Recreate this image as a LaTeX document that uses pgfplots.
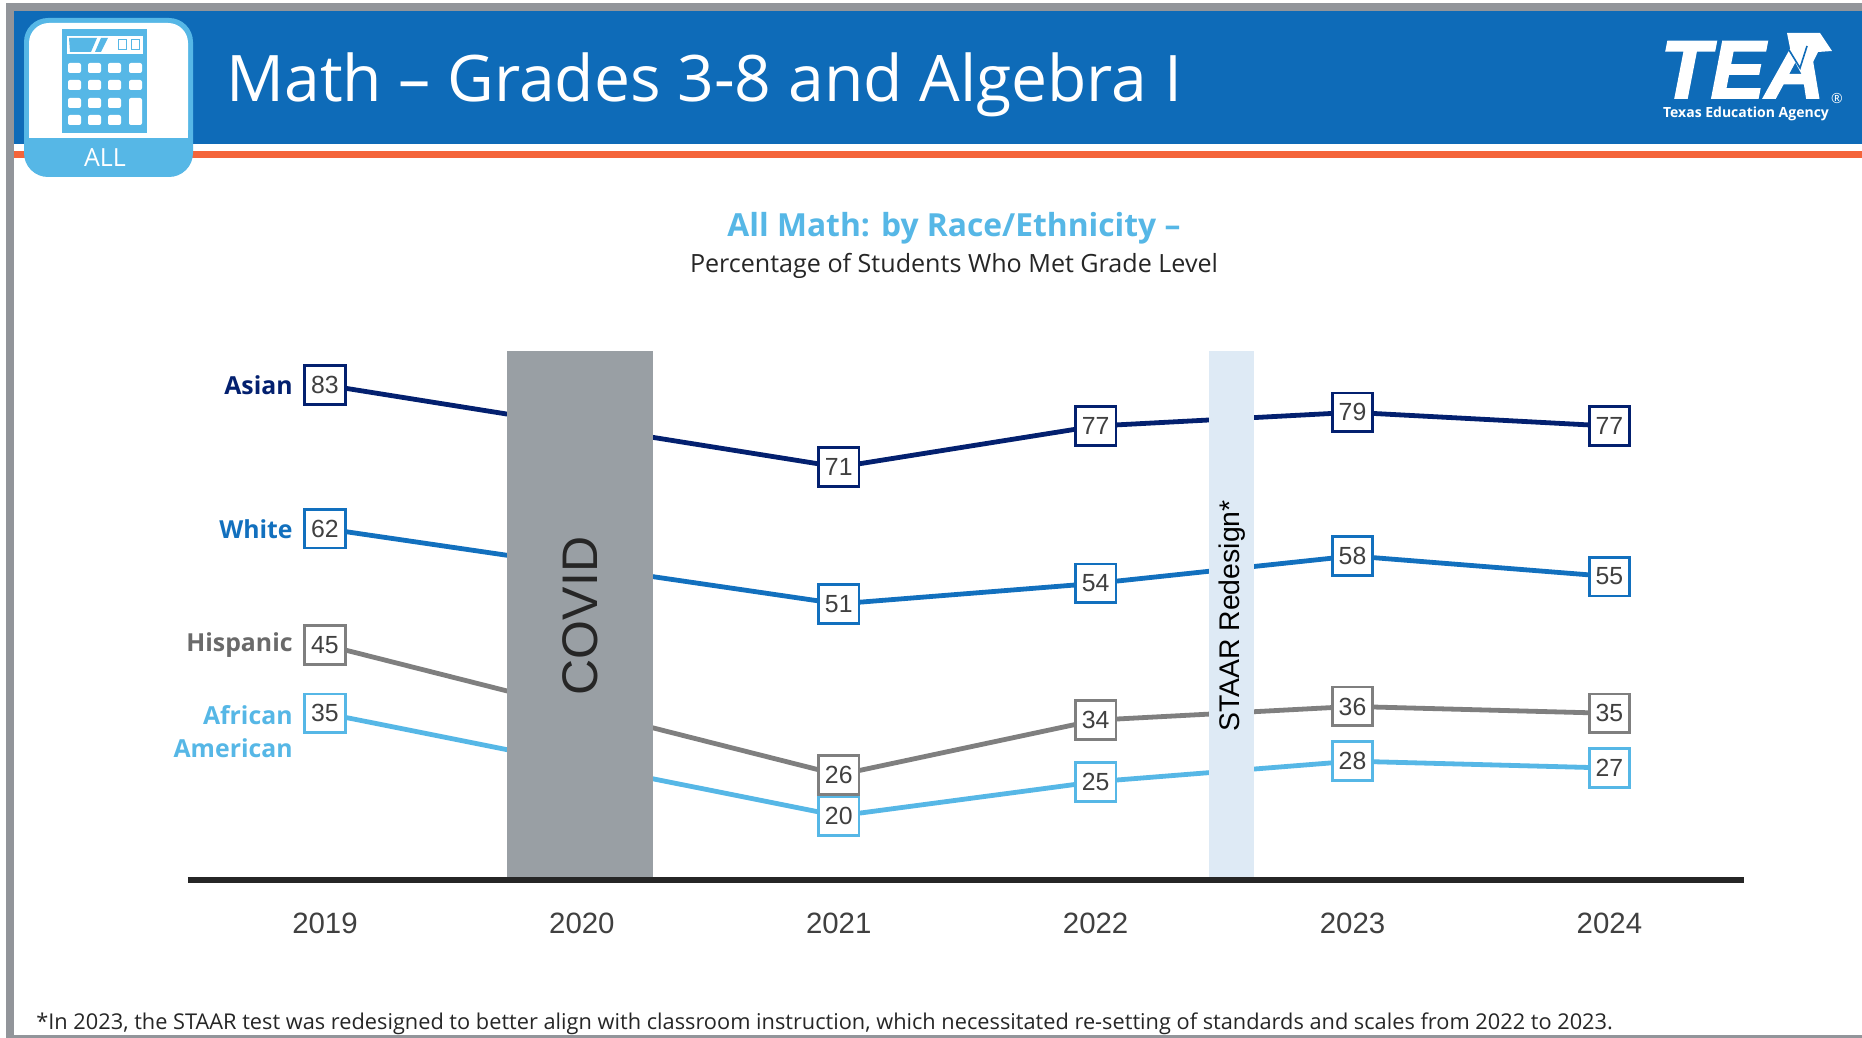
\documentclass[border=0pt]{standalone}
\usepackage{pgfplots}
\pgfplotsset{compat=1.18}
\usepackage{fontspec}
\setmainfont{Open Sans}
\newfontfamily\arial{Liberation Sans}
\newfontfamily\teaf[BoldItalicFeatures={FakeBold=2}]{Liberation Sans}
\definecolor{hdr}{HTML}{0E6BB8}
\definecolor{navy}{HTML}{03206F}
\definecolor{whitec}{HTML}{1270BE}
\definecolor{hisp}{HTML}{7F7F7F}
\definecolor{hisptxt}{HTML}{6A6A6A}
\definecolor{afam}{HTML}{56B7E6}
\definecolor{frame}{HTML}{92959A}
\definecolor{orangebar}{HTML}{F4643A}
\definecolor{covid}{HTML}{999FA4}
\definecolor{staar}{HTML}{DEEAF5}
\definecolor{numtxt}{HTML}{404040}
\pgfplotstableread{
year val
2019 35
2021 20
2022 25
2023 28
2024 27
}\tblafam
\pgfplotstableread{
year val
2019 45
2021 26
2022 34
2023 36
2024 35
}\tblhisp
\pgfplotstableread{
year val
2019 62
2021 51
2022 54
2023 58
2024 55
}\tblwhite
\pgfplotstableread{
year val
2019 83
2021 71
2022 77
2023 79
2024 77
}\tblasian
\pgfplotsset{
  series/.style={
    line width=2.4pt, draw=#1, mark=none,
    nodes near coords,
    point meta=y,
    /pgf/number format/assume math mode=true,
    every node near coord/.style={anchor=center, draw=#1, fill=white,
      line width=1.4pt, minimum width=20.3pt, minimum height=19.4pt, inner sep=0pt,
      text=numtxt, font=\arial\fontsize{12.4}{14}\selectfont},
  }
}
\begin{document}
\begin{tikzpicture}
\path[use as bounding box] (0,0) rectangle (931pt,519pt);
\begin{scope}[x=0.5pt,y=-0.5pt,shift={(0pt,519pt)}]
  % frame
  \fill[frame] (6,3) rectangle (1862,1038);
  \fill[white] (14,10.7) rectangle (1862,1035);
  \fill[hdr] (14,10.7) rectangle (1862,144);
  \fill[orangebar] (14,151) rectangle (1862,158.5);
  % icon
  \fill[afam,rounded corners=12pt] (24,18) rectangle (193,177);
  \fill[white,rounded corners=10pt] (29,23) rectangle (188,150);
  \fill[white] (29,60) rectangle (188,138);
  \fill[afam] (29,138) rectangle (188,152);
  \fill[afam] (62,29) rectangle (147,133);
  \fill[white] (67,36) rectangle (143,54);
  \fill[afam] (69,38) -- (97,38) -- (91,52) -- (70,52) -- cycle;
  \fill[afam] (101,38) -- (108,38) -- (101,52) -- (95,52) -- cycle;
  \foreach \xx in {118,131} \draw[afam,line width=0.5pt] (\xx,40) rectangle (\xx+8,50);
  \foreach \xx in {68,88,108,129} \foreach \yy in {63,80,98,115} {
    \ifnum\xx=129 \ifnum\yy>80 \else \fill[white,rounded corners=1pt] (\xx,\yy) rectangle (\xx+13,\yy+10); \fi
    \else \fill[white,rounded corners=1pt] (\xx,\yy) rectangle (\xx+13,\yy+10); \fi
  }
  \fill[white,rounded corners=1pt] (129,98) rectangle (142,125);
  \node[text=white,font=\fontsize{12.5}{14}\selectfont] at (105,157.5) {ALL};
  % title
  \node[anchor=base west,text=white,inner sep=0pt,font=\fontsize{32.1}{36}\selectfont] at (226,102) {Math – Grades 3-8 and Algebra I};
  % logo
  \node[anchor=base west,text=white,inner sep=0pt,font=\teaf\bfseries\itshape\fontsize{41}{44}\selectfont] at (1660,98) {TEA};
  \fill[white] (1787,33) -- (1820,33) -- (1832,51) -- (1818,52) -- (1812,64) -- (1802,75) -- (1795,62) -- (1790,48) -- cycle;
  \draw[hdr,line width=0.8pt] (1789,50) -- (1800,68) -- (1807,46);
  \node[anchor=center,text=white,inner sep=0pt,font=\bfseries\fontsize{7}{8}\selectfont] at (1746,114) {Texas Education Agency};
  \node[text=white,inner sep=0pt,font=\fontsize{7}{8}\selectfont] at (1837,99) {®};
  % headings
  \node[text=afam,inner sep=0pt,font=\bfseries\fontsize{15.9}{18}\selectfont] at (954,228) {All Math: by Race/Ethnicity –};
  \node[text=black!85,inner sep=0pt,font=\fontsize{12.55}{15}\selectfont] at (954,265.5) {Percentage of Students Who Met Grade Level};
  % footnote
  \node[anchor=west,text=black!85,inner sep=0pt,font=\fontsize{10.88}{13}\selectfont] at (36,1024) {*In 2023, the STAAR test was redesigned to better align with classroom instruction, which necessitated re-setting of standards and scales from 2022 to 2023.};
\end{scope}
\begin{axis}[
  at={(93.9pt,79pt)}, anchor=south west,
  scale only axis, width=777.85pt, height=264.5pt,
  xmin=2018.466, xmax=2024.522, ymin=10.63, ymax=87.97,
  axis x line=bottom, axis y line=none,
  axis line style={line width=2.75pt, color=black!85, -},
  xtick={2019,2020,2021,2022,2023,2024},
  xticklabels={2019,2020,2021,2022,2023,2024},
  tick style={draw=none},
  x tick label style={font=\arial\fontsize{14.7}{16}\selectfont, text=numtxt, yshift=-11pt},
  clip=false,
]
\addplot[draw=none] coordinates {(2019,40)};
\end{axis}
\begin{axis}[
  at={(93.9pt,79pt)}, anchor=south west,
  scale only axis, width=777.85pt, height=264.5pt,
  xmin=2018.466, xmax=2024.522, ymin=10.63, ymax=87.97,
  hide axis, clip=false,
]
\addplot[series=afam] table[x=year,y=val] {\tblafam};
\addplot[series=hisp] table[x=year,y=val] {\tblhisp};
\addplot[series=whitec] table[x=year,y=val] {\tblwhite};
\addplot[series=navy] table[x=year,y=val] {\tblasian};
\addplot[fill=covid, draw=none] coordinates {(2019.71,87.97) (2020.278,87.97) (2020.278,11) (2019.71,11)} -- cycle;
\addplot[fill=staar, draw=none] coordinates {(2022.44,87.97) (2022.615,87.97) (2022.615,11) (2022.44,11)} -- cycle;
\end{axis}
\begin{scope}[x=0.5pt,y=-0.5pt,shift={(0pt,519pt)}]
  \node[rotate=90,text=black!85,inner sep=0pt,font=\arial\fontsize{25}{28}\selectfont] at (580,616) {COVID};
  \node[rotate=90,text=black,inner sep=0pt,font=\arial\fontsize{14.2}{16}\selectfont] at (1232,616) {STAAR Redesign*};
  \tikzset{lab/.style={anchor=east,inner sep=0pt,font=\bfseries\fontsize{12.4}{15}\selectfont}}
  \node[lab,text=navy] at (293,385) {Asian};
  \node[lab,text=whitec] at (293,529) {White};
  \node[lab,text=hisptxt] at (293,645.5) {Hispanic};
  \node[lab,text=afam] at (293,715) {African};
  \node[lab,text=afam] at (293,748) {American};
\end{scope}
\end{tikzpicture}
\end{document}
